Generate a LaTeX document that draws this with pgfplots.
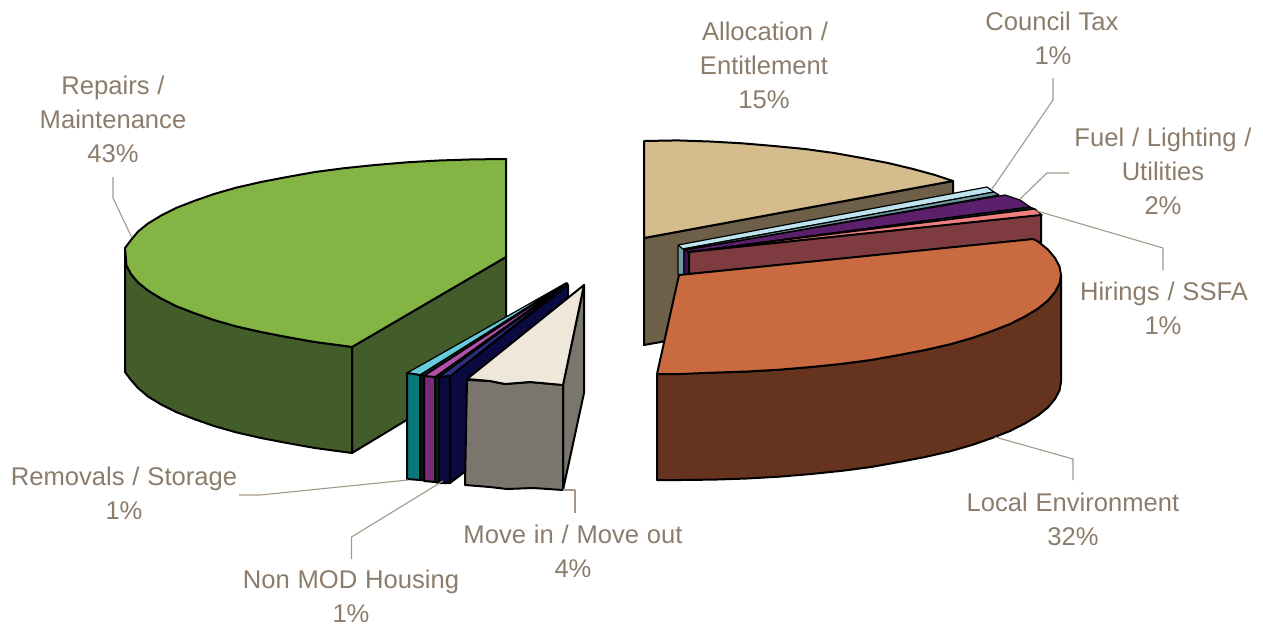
\documentclass[border=0pt]{standalone}
\usepackage{pgfplots}
\pgfplotsset{compat=1.18}
\usepackage{fontspec}
\setmainfont[WordSpace=1.1]{Liberation Sans}
\definecolor{labeltext}{RGB}{140,124,107}
\definecolor{leader}{RGB}{165,152,138}

\definecolor{repTop}{RGB}{132,181,68}
\definecolor{repSide}{RGB}{66,92,42}
\definecolor{remTop}{RGB}{102,204,221}
\definecolor{remSide}{RGB}{8,122,122}
\definecolor{sliver}{RGB}{5,30,25}
\definecolor{nonTop}{RGB}{176,80,168}
\definecolor{nonSide}{RGB}{122,42,122}
\definecolor{navTop}{RGB}{46,46,126}
\definecolor{navSide}{RGB}{10,10,64}
\definecolor{movTop}{RGB}{239,232,218}
\definecolor{movSide}{RGB}{122,118,110}
\definecolor{allTop}{RGB}{212,188,140}
\definecolor{allSide}{RGB}{110,95,72}
\definecolor{couTop}{RGB}{190,228,238}
\definecolor{couSide}{RGB}{110,154,160}
\definecolor{fueTop}{RGB}{92,31,108}
\definecolor{fueSide}{RGB}{62,15,80}
\definecolor{hirTop}{RGB}{240,128,128}
\definecolor{hirSide}{RGB}{127,60,64}
\definecolor{locTop}{RGB}{202,106,64}
\definecolor{locSide}{RGB}{102,51,30}

\tikzset{slice/.style={draw=black,line width=2pt,line join=round,fill=#1},
  thinslice/.style={draw=black,line width=1.2pt,line join=round,fill=#1},
  lead/.style={draw=leader,line width=1.1pt,line join=round},
  lab/.style={anchor=base,text=labeltext,inner sep=0pt,
    font=\fontsize{25.6}{30}\selectfont}}

\begin{document}
\begin{tikzpicture}
\begin{axis}[
  scale only axis,width=1263pt,height=625pt,
  xmin=0,xmax=1263,ymin=0,ymax=625,y dir=reverse,
  hide axis,clip=false,no markers]
\coordinate (pageSW) at (axis cs:0,625);
\coordinate (pageNE) at (axis cs:1263,0);

% Repairs / Maintenance
\addplot[slice=repSide] coordinates {(352,347)(506,257)(506,360)(352,453)} --cycle;
\addplot[slice=repSide] coordinates {(125,248)(125,372)(131,380)(138,388)(148,396.5)(161,404.4)(176,412)(194,419)(214,426)(236,432.3)(261,438)(287,443)(315,448)(352,453)(352,347)(344,345.8)(315,342)(287,337)(261,332)(236,326.3)(214,320)(194,313)(176,306)(161,298.4)(148,290.5)(138,282.4)(131,274)(126.5,265.5)} --cycle;
\addplot[slice=repTop] coordinates {(506,159)(472,159.4)(439,160.5)(407,162.3)(375,165)(344,168.2)(315,172)(287,177)(261,182)(236,187.7)(214,194)(194,201)(176,208)(161,215.6)(148,223.5)(138,231.6)(131,240)(125,248)(126.5,265.5)(131,274)(138,282.4)(148,290.5)(161,298.4)(176,306)(194,313)(214,320)(236,326.3)(261,332)(287,337)(315,342)(344,345.8)(352,347)(506,257)} --cycle;

% Narrow slices beside it
\addplot[slice=navSide] coordinates {(450,376)(568,285)(568,393)(450,483)} --cycle;
\addplot[thinslice=remTop] coordinates {(407,373)(420,375)(566,283)} --cycle;
\addplot[thinslice=sliver] coordinates {(420,375)(424,376)(566,283)} --cycle;
\addplot[thinslice=nonTop] coordinates {(424,376)(435,377)(567,283)} --cycle;
\addplot[thinslice=sliver] coordinates {(435,377)(439,377)(567,283)} --cycle;
\addplot[thinslice=navTop] coordinates {(439,377)(450,376)(568,283)} --cycle;
\addplot[slice=remSide] coordinates {(407,373)(420,375)(420,480)(407,479)} --cycle;
\addplot[slice=sliver] coordinates {(420,375)(424,376)(424,480)(420,480)} --cycle;
\addplot[slice=nonSide] coordinates {(424,376)(435,377)(435,482)(424,481)} --cycle;
\addplot[slice=sliver] coordinates {(435,377)(439,377)(439,483)(435,482)} --cycle;
\addplot[slice=navSide] coordinates {(439,377)(450,376)(450,483)(439,483)} --cycle;

% Move in / Move out
\addplot[slice=movSide] coordinates {(563,385)(584,285)(584,393)(563,490)} --cycle;
\addplot[slice=movSide] coordinates {(467,380)(465,485)(490,487)(507,489)(533,488)(563,490)(563,385)(530,382)(505,384)(490,381)} --cycle;
\addplot[slice=movTop] coordinates {(467,379)(490,381)(505,384)(530,382)(563,385)(584,285)} --cycle;

% Allocation / Entitlement
\addplot[slice=allSide] coordinates {(644,238)(953,181)(953,290)(644,345)} --cycle;
\addplot[slice=allTop] coordinates {(644,141)(677,140.4)(710,141.5)(742,143.3)(774,146)(805,149)(834,153)(862,158)(888,163)(913,169)(935,175)(953,181)(644,238)} --cycle;

% Council Tax, Fuel / Lighting / Utilities and Hirings / SSFA
\addplot[thinslice=couSide] coordinates {(678,246)(684,247)(684,275)(678,275)} --cycle;
\addplot[thinslice=fueSide] coordinates {(684,247)(689,250)(689,275)(684,275)} --cycle;
\addplot[thinslice=couTop] coordinates {(678,245)(987,187)(994,192)(683,249)} --cycle;
\addplot[thinslice=couSide] coordinates {(683,249)(994,192)(999,195)(685,250)} --cycle;
\addplot[thinslice=fueTop] coordinates {(686,250)(1005,195)(1020,200)(1030,207)(688,252)} --cycle;
\addplot[thinslice=sliver] coordinates {(688,252)(1030,207)(1035,209)} --cycle;
\addplot[thinslice=hirTop] coordinates {(688,252)(1035,209)(1042,215)} --cycle;
\addplot[slice=hirSide] coordinates {(689,252)(1041,215)(1041,243)(689,274)} --cycle;

% Local Environment
\addplot[slice=locSide] coordinates {(657,374)(657,480)(681,480)(714,479.6)(747,478.5)(779,476.7)(811,474)(842,470.8)(871,467)(899,462)(925,457)(950,451.3)(972,445)(992,438)(1010,431)(1025,423.4)(1038,415.5)(1048,407.4)(1055,399)(1059.5,390.5)(1061,382)(1061,275)(1059.5,283.5)(1055,292)(1048,300.4)(1038,308.5)(1025,316.4)(1010,324)(992,331)(972,338)(950,344.3)(925,350)(899,355)(871,360)(842,363.8)(811,367)(779,369.7)(747,371.5)(714,372.6)(681,373)} --cycle;
\addplot[slice=locTop] coordinates {(679,275)(1033,239)(1038,241.5)(1048,249.6)(1055,258)(1059.5,266.5)(1061,275)(1059.5,283.5)(1055,292)(1048,300.4)(1038,308.5)(1025,316.4)(1010,324)(992,331)(972,338)(950,344.3)(925,350)(899,355)(871,360)(842,363.8)(811,367)(779,369.7)(747,371.5)(714,372.6)(681,374)(657,374)} --cycle;

% Leader lines
\addplot[lead] coordinates {(113,177)(113,198)(132,238)};
\addplot[lead] coordinates {(1053,78)(1053,100)(992,189)};
\addplot[lead] coordinates {(1069,173)(1047,173)(1020,199)};
\addplot[lead] coordinates {(1037,211)(1163,248)(1163,270)};
\addplot[lead] coordinates {(995,437)(1073,459)(1073,480)};
\addplot[lead] coordinates {(239,495)(260,495)(408,480)};
\addplot[lead] coordinates {(351.5,559)(351.5,537)(443,481)};
\addplot[lead] coordinates {(563,490)(575,490)(575,513)};

% Data labels
\node[lab] at (axis cs:113,94) {Repairs /};
\node[lab] at (axis cs:113,128) {Maintenance};
\node[lab] at (axis cs:113,162) {43\%};
\node[lab] at (axis cs:765,40) {Allocation /};
\node[lab] at (axis cs:764,74) {Entitlement};
\node[lab] at (axis cs:764,108) {15\%};
\node[lab] at (axis cs:1052,30) {Council Tax};
\node[lab] at (axis cs:1053,64) {1\%};
\node[lab] at (axis cs:1163,146) {Fuel / Lighting /};
\node[lab] at (axis cs:1163,180) {Utilities};
\node[lab] at (axis cs:1163,214) {2\%};
\node[lab] at (axis cs:1164,300) {Hirings / SSFA};
\node[lab] at (axis cs:1163,334) {1\%};
\node[lab] at (axis cs:1073,511) {Local Environment};
\node[lab] at (axis cs:1073,545) {32\%};
\node[lab] at (axis cs:124,485) {Removals / Storage};
\node[lab] at (axis cs:124,519) {1\%};
\node[lab] at (axis cs:351,588) {Non MOD Housing};
\node[lab] at (axis cs:351,622) {1\%};
\node[lab] at (axis cs:573,543) {Move in / Move out};
\node[lab] at (axis cs:573,577) {4\%};
\end{axis}
\pgfresetboundingbox
\path[use as bounding box] (pageSW) rectangle (pageNE);
\end{tikzpicture}
\end{document}
